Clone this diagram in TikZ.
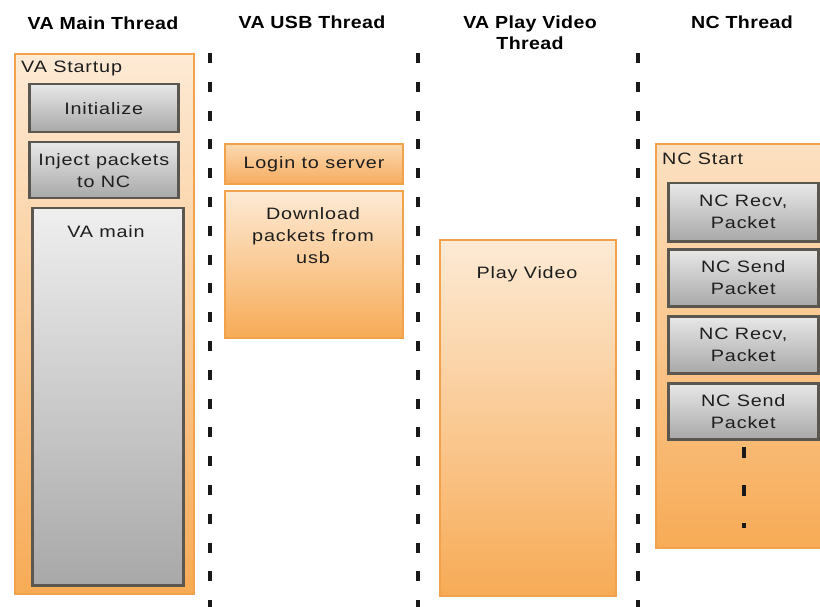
\documentclass[tikz,border=0pt]{standalone}
\usepackage{fontspec}
\setmainfont{Liberation Sans}[FakeStretch=1.2,LetterSpace=5]
\newfontfamily\headfont{Liberation Sans}[FakeStretch=1.12,LetterSpace=2]
\usetikzlibrary{calc}

\definecolor{orline}{HTML}{F2A24A}
\definecolor{ortop}{HTML}{FDEAD5}
\definecolor{orbot}{HTML}{F7AB56}
\definecolor{logtop}{HTML}{FCD9B1}
\definecolor{logbot}{HTML}{F6AC5E}
\definecolor{grline}{HTML}{5A5750}
\definecolor{grtop}{HTML}{E8E8E8}
\definecolor{grbot}{HTML}{A8A8A8}
\definecolor{txt}{HTML}{1E1E1E}

\begin{document}
\begin{tikzpicture}[x=1pt,y=-1pt,
  title/.style={font=\headfont\fontsize{17.5}{21}\selectfont\bfseries, text=black, align=center, inner sep=0pt},
  body/.style={font=\fontsize{16.5}{22}\selectfont, text=txt, align=center, inner sep=0pt},
  orbox/.style={draw=orline, line width=2pt, rectangle, inner sep=0pt, anchor=north west,
    top color=ortop, bottom color=orbot},
  grbox/.style={draw=grline, line width=2.5pt, rectangle, inner sep=0pt, anchor=north west,
    top color=grtop, bottom color=grbot, align=center,
    font=\fontsize{16.5}{22}\selectfont, text=txt},
  lane/.style={draw=black!90, line width=3.5pt, dash pattern=on 10pt off 18.8pt},
  dots/.style={draw=black!90, line width=4pt, dash pattern=on 11pt off 27pt}
]
\clip (0,0) rectangle (820,607);

% lane titles
\node[title] (t1) at (103,23) {VA Main Thread};
\node[title] (t2) at (312,22) {VA USB Thread};
\node[title] (t3) at (530,33) {VA Play Video\\Thread};
\node[title] (t4) at (742,22) {NC Thread};

% lane separators
\coordinate (s1a) at (210,53); \coordinate (s1b) at (210,607);
\coordinate (s2a) at (418,53); \coordinate (s2b) at (418,607);
\coordinate (s3a) at (638,53); \coordinate (s3b) at (638,607);
\draw[lane] (s1a) -- (s1b);
\draw[lane] (s2a) -- (s2b);
\draw[lane] (s3a) -- (s3b);

% VA main thread
\node[orbox, minimum width=179pt, minimum height=540pt] (startup) at (14,53) {};
\node[body, anchor=west] (startuplbl) at (21,68) {VA Startup};
\node[grbox, minimum width=149pt, minimum height=48pt] (init) at (28,83) {Initialize};
\node[grbox, minimum width=149pt, minimum height=56pt] (inject) at (28,141) {Inject packets\\to NC};
\node[grbox, minimum width=151pt, minimum height=377pt, top color=grtop!70!white] (vamain) at (31,207) {};
\node[body] (vamainlbl) at (106,232) {VA main};

% VA USB thread
\node[orbox, minimum width=178pt, minimum height=40pt, top color=logtop, bottom color=logbot] (login) at (224,143) {};
\node[body] (loginlbl) at (login.center) {Login to server};
\node[orbox, minimum width=178pt, minimum height=147pt] (download) at (224,190) {};
\node[body, anchor=north] (downloadlbl) at (313,207) {Download\\packets from\\usb};

% VA play video thread
\node[orbox, minimum width=176pt, minimum height=356pt] (play) at (439,239) {};
\node[body] (playlbl) at (527,274) {Play Video};

% NC thread
\node[orbox, minimum width=185pt, minimum height=404pt, top color=ortop!85!orbot] (ncstart) at (655,143) {};
\node[body, anchor=west] (ncstartlbl) at (662,159) {NC Start};
\node[grbox, minimum width=150pt, minimum height=58pt] (nc1) at (667,182) {NC Recv,\\Packet};
\node[grbox, minimum width=150pt, minimum height=57pt] (nc2) at (667,248) {NC Send\\Packet};
\node[grbox, minimum width=150pt, minimum height=57pt] (nc3) at (667,315) {NC Recv,\\Packet};
\node[grbox, minimum width=150pt, minimum height=56pt] (nc4) at (667,382) {NC Send\\Packet};
\coordinate (dota) at (744,447);
\coordinate (dotb) at (744,528);
\draw[dots] (dota) -- (dotb);
\end{tikzpicture}
\end{document}
